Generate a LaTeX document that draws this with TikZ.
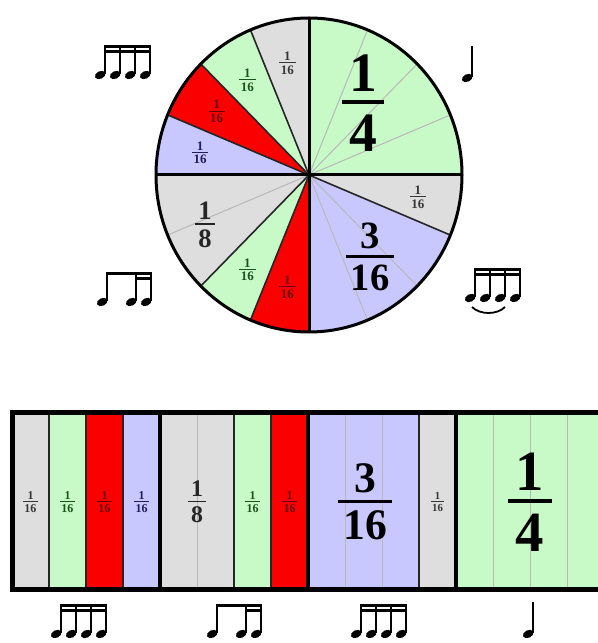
\documentclass[tikz,border=0pt]{standalone}
\usepackage{fontspec}
\setmainfont{Liberation Serif}
\usetikzlibrary{calc}
\definecolor{grn}{RGB}{200,250,200}
\definecolor{gry}{RGB}{222,222,222}
\definecolor{blu}{RGB}{200,200,255}
\definecolor{rd}{RGB}{250,0,0}
\definecolor{grntxt}{RGB}{25,85,25}
\definecolor{grytxt}{RGB}{55,55,55}
\definecolor{blutxt}{RGB}{30,30,95}
\definecolor{rdtxt}{RGB}{105,0,0}

%% stacked fraction with a bar a little wider than the digits
\newcommand{\fr}[2]{\vbox{\halign{\hfil\kern.13em##\kern.13em\hfil\cr
  #1\cr\noalign{\kern.15em\hrule height .08em\kern.18em}#2\cr}}}

\begin{document}
\begin{tikzpicture}[
  x=0.5pt, y=0.5pt,
  %% fraction label, #1 = font size in pt
  lbl/.style={font=\fontsize{#1}{#1}\selectfont\bfseries, inner sep=0pt},
  %% lines between and inside the parts
  inner/.style={line width=0.5pt, draw=black!28},
  edge/.style={line width=0.8pt, draw=black!85},
  axis/.style={line width=1.5pt, draw=black},
  baraxis/.style={line width=2.2pt, draw=black},
  frame/.style={line width=2.5pt, draw=black},
  %% note parts
  stem/.style={line width=0.75pt},
  pics/semis/.style={code={
    \foreach \i in {0,...,3}{
      \fill[rotate around={25:(15*\i,0)}] (15*\i,0) ellipse[x radius=5.6, y radius=3.8];
      \draw[stem] (15*\i+4.8,1) -- (15*\i+4.8,30);}
    \fill (4.05,30) rectangle (50.55,27);
    \fill (4.05,25) rectangle (50.55,22);
  }},
  pics/mixed/.style={code={
    \foreach \i in {0,29,44}{
      \fill[rotate around={25:(\i,0)}] (\i,0) ellipse[x radius=5.6, y radius=3.8];
      \draw[stem] (\i+4.8,1) -- (\i+4.8,30);}
    \fill (4.05,30) rectangle (49.55,27);
    \fill (33.05,25) rectangle (49.55,22);
  }},
  pics/crotchet/.style={code={
    \fill[rotate around={25:(0,0)}] (0,0) ellipse[x radius=5.6, y radius=3.8];
    \draw[stem] (4.8,1) -- (4.8,32);
  }},
]
\useasboundingbox (0,0) rectangle (598,643);
\clip (0,0) rectangle (598,643);

%%── Pie ──────────────────────────────────────────────────────────────────────
\coordinate (c) at (309,468);
\foreach \k/\n/\col in {0/1/gry,1/1/grn,2/1/rd,3/1/blu,4/2/gry,
                         6/1/grn,7/1/rd,8/3/blu,11/1/gry,12/4/grn}{
  \fill[\col] (c) -- ++({90+22.5*\k}:153 and 157)
    arc[start angle={90+22.5*\k}, delta angle={22.5*\n}, x radius=153, y radius=157]
    -- cycle;
}
\foreach \k in {5,9,10,13,14,15}
  \draw[inner] (c) -- ++({90+22.5*\k}:153 and 157);
\foreach \k in {1,2,3,6,7,11}
  \draw[edge] (c) -- ++({90+22.5*\k}:153 and 157);
\foreach \k in {0,4,8,12}
  \draw[axis] (c) -- ++({90+22.5*\k}:153 and 157);
\draw[axis] (c) ellipse[x radius=153, y radius=157];

%% pie labels
\node[lbl=27.8] (pq) at ($(c)+(54,72)$) {\fr{1}{4}};
\node[lbl=19.3] (pd) at ($(c)+(61,-82)$) {\fr{3}{16}};
\node[lbl=13.3, text=black!85] (pe) at ($(c)+(-104,-50)$) {\fr{1}{8}};
\foreach \k/\col in {0/grytxt,1/grntxt,2/rdtxt,3/blutxt,6/grntxt,7/rdtxt,11/grytxt}
  \node[lbl=6.5, text=\col] (p\k) at ($(c)+({101.25+22.5*\k}:111 and 114)$) {\fr{1}{16}};

%%── Bar ──────────────────────────────────────────────────────────────────────
\foreach \k/\n/\col in {0/1/gry,1/1/grn,2/1/rd,3/1/blu,4/2/gry,
                         6/1/grn,7/1/rd,8/3/blu,11/1/gry,12/4/grn}
  \fill[\col] ({12+37*\k},53) rectangle ++({37*\n},177);
\foreach \k in {5,9,10,13,14,15}
  \draw[inner] ({12+37*\k},53) -- ++(0,177);
\foreach \k in {1,2,3,6,7,11}
  \draw[edge, line width=0.7pt] ({12+37*\k},53) -- ++(0,177);
\foreach \k in {4,8,12}
  \draw[baraxis] ({12+37*\k},53) -- ++(0,177);
\draw[frame] (12,53) rectangle (604,230);

%% bar labels
\foreach \k/\col in {0/grytxt,1/grntxt,2/rdtxt,3/blutxt,6/grntxt,7/rdtxt}
  \node[lbl=6, text=\col] (b\k) at ({12+37*\k+18.5},141) {\fr{1}{16}};
\node[lbl=5.4, text=grytxt] (b11) at (437.5,141) {\fr{1}{16}};
\node[lbl=11.9, text=black!85] (be) at (197,141) {\fr{1}{8}};
\node[lbl=21.8] (bd) at (365,141) {\fr{3}{16}};
\node[lbl=28.4] (bq) at (530,141) {\fr{1}{4}};

%%── Notes round the pie ─────────────────────────────────────────────────────
\pic at (100.2,568) {semis};
\pic at (467.2,565) {crotchet};
\pic at (102.2,341) {mixed};
\pic at (470.2,345) {semis};
\draw[line width=0.9pt] (472,336) .. controls (480,328) and (497,328) .. (505,336);

%%── Notes under the bar ─────────────────────────────────────────────────────
\pic at (56.2,9) {semis};
\pic at (212.2,9) {mixed};
\pic at (356.2,9) {semis};
\pic at (528.2,9) {crotchet};

\end{tikzpicture}
\end{document}
